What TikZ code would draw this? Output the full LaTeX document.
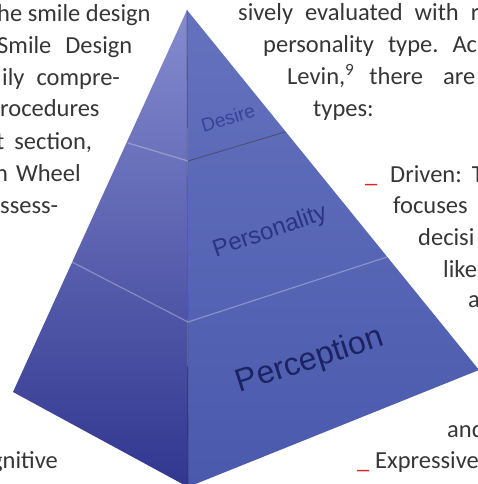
\documentclass[tikz,border=0pt]{standalone}
\usepackage{fontspec}
\setmainfont{Carlito}
\newfontfamily\pyrfont{Liberation Sans}
\usepackage{tikz}
\definecolor{bodygray}{HTML}{363636}
\definecolor{dashred}{HTML}{E32121}
\definecolor{leftlight}{HTML}{858CCF}
\definecolor{leftmid}{HTML}{555EB6}
\definecolor{leftdark}{HTML}{31368F}
\definecolor{rightlight}{HTML}{6472BE}
\definecolor{rightdark}{HTML}{4A59AC}
\definecolor{desireblue}{HTML}{37439A}
\definecolor{persblue}{HTML}{2A3482}
\definecolor{percblue}{HTML}{1C2362}
\newcommand{\bodysize}{\fontsize{24.5}{29}\selectfont}

\begin{document}
\begin{tikzpicture}[x=1pt, y=-1pt]
        \tikzstyle{txt}=[anchor=base west, inner sep=0pt, font=\bodysize, text=bodygray]
        \tikzstyle{bullet}=[txt, text=dashred]
        \tikzstyle{layer}=[inner sep=0pt]
        \tikzstyle{band}=[white, opacity=0.3, line width=1.2pt]
        \useasboundingbox (0,0) rectangle (478,484);
        \clip (0,0) rectangle (478,484);
        % pyramid corners
        \coordinate (apex) at (187,10);
        \coordinate (left) at (13,392);
        \coordinate (front) at (188,487);
        \coordinate (right) at (479,370);
        \coordinate (lt1) at (128,143);
        \coordinate (ct1) at (188,161);
        \coordinate (rt1) at (285,132);
        \coordinate (lt2) at (72,262);
        \coordinate (ct2) at (188,322);
        \coordinate (rt2) at (387,257);
        \shade[top color=leftlight, middle color=leftmid, bottom color=leftdark] (apex) -- (left) -- (front) -- cycle;
        \shade[top color=rightlight, bottom color=rightdark] (apex) -- (front) -- (right) -- cycle;
        \draw[black, opacity=0.3, line width=0.8pt] (apex) -- (front);
        \draw[band] (lt1) -- (ct1);
        \draw[black!75, opacity=0.6, line width=0.9pt] (ct1) -- (rt1);
        \draw[band] (lt2) -- (ct2) -- (rt2);
        \node[layer, rotate=17, font=\pyrfont\fontsize{19}{19}\selectfont, text=desireblue] (desire) at (228,118) {Desire};
        \node[layer, rotate=19, font=\pyrfont\fontsize{24}{24}\selectfont, text=persblue] (pers) at (270,232) {Personality};
        \node[layer, rotate=18, font=\pyrfont\fontsize{32}{32}\selectfont, text=percblue] (perc) at (310,361) {Perception};
        % left column
        \node[txt] (l1) at (-3,22) {he smile design};
        \node[txt] (l2) at (-3,54) {Smile\hspace{14pt}Design};
        \node[txt] (l3) at (2,86) {ily\hspace{12pt}compre-};
        \node[txt] (l4) at (0,117) {rocedures};
        \node[txt] (l5) at (-4,149) {t\hspace{10pt}section,};
        \node[txt] (l6) at (-5,181) {n\hspace{8pt}Wheel};
        \node[txt] (l7) at (0,213) {ssess-};
        \node[txt] (l8) at (-9,468) {gnitive};
        % right column
        \node[txt] (r1) at (238,21) {sively\hspace{12pt}evaluated\hspace{12pt}with\hspace{12pt}r};
        \node[txt] (r2) at (263,53) {personality\hspace{14pt}type.\hspace{14pt}Ac};
        \node[txt] (r3) at (287,85) {Levin,\textsuperscript{9}\hspace{15pt}there\hspace{20pt}are};
        \node[txt] (r4) at (313,117) {types:};
        \node[bullet] (d1) at (365,182) {\_};
        \node[txt] (r5) at (390,182) {Driven:\hspace{10pt}T};
        \node[txt] (r6) at (393,213) {focuses};
        \node[txt] (r7) at (418,245) {decisi};
        \node[txt] (r8) at (443,277) {like};
        \node[txt] (r9) at (468,307) {a};
        \node[txt] (r10) at (447,437) {and};
        \node[bullet] (d2) at (357,468) {\_};
        \node[txt] (r11) at (375,468) {Expressive};
    \end{tikzpicture}
\end{document}
